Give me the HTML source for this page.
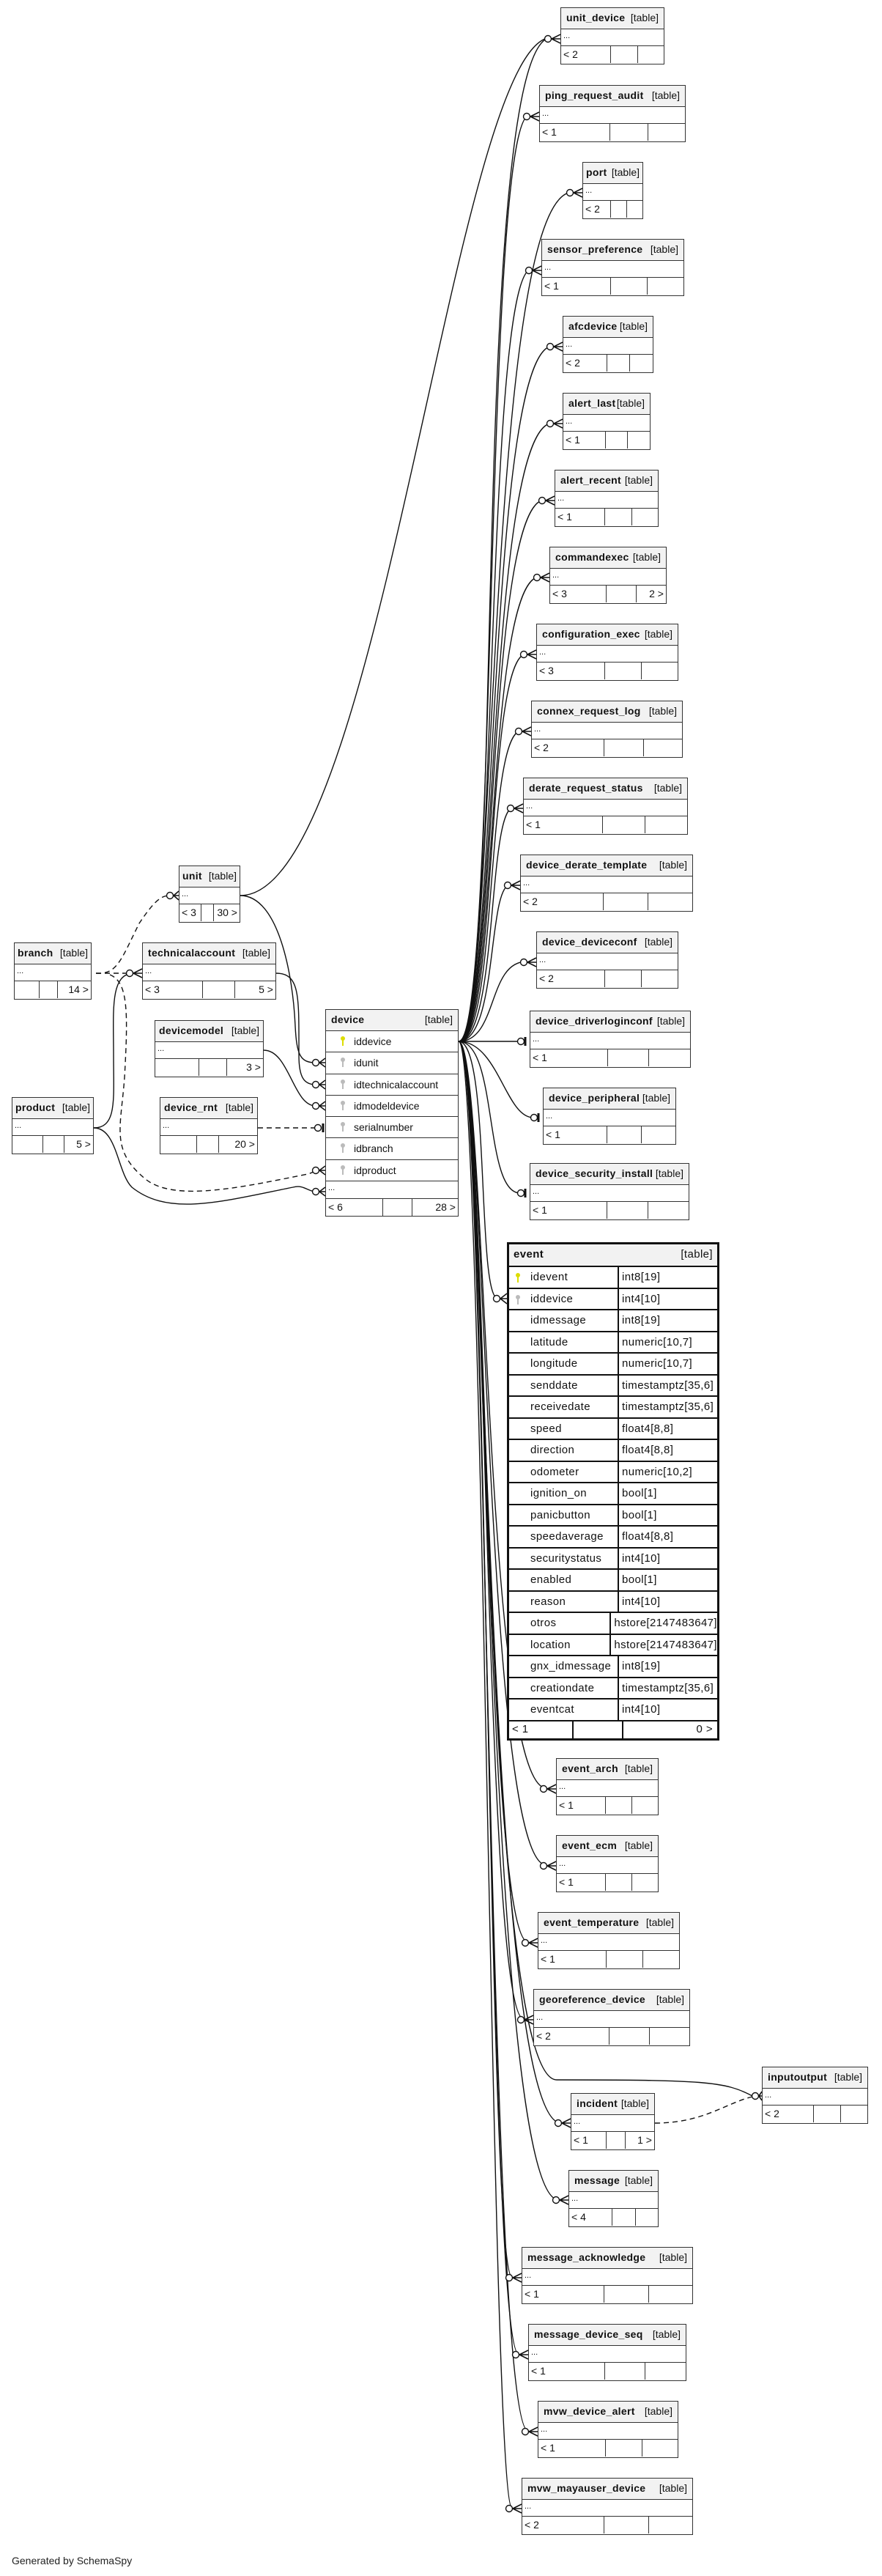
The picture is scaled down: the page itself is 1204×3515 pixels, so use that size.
<!DOCTYPE html>
<html><head><meta charset="utf-8"><style>
body{margin:0;width:1204px;height:3515px;position:relative;background:#fff;overflow:hidden;font-family:"Liberation Sans",sans-serif;color:#111}
svg{position:absolute;left:0;top:0}
.t{position:absolute;box-sizing:border-box;border:1.5px solid #333;background:#fff;height:78px;font-size:14px}
.h{box-sizing:border-box;height:29px;background:#f2f2f2;border-bottom:1.5px solid #333;padding:0 7px;line-height:26px;white-space:nowrap;display:flex;justify-content:space-between}
.h b{font-weight:bold;letter-spacing:0.3px}
.r{box-sizing:border-box;height:23px;border-bottom:1.5px solid #333;padding-left:3px;line-height:18px;font-size:11px}
.f{display:flex;height:23px;line-height:22px;font-size:14px}
.f div{box-sizing:border-box;padding:0 3px;white-space:nowrap}
.f div+div{border-left:1.5px solid #333}
.a{width:48%}.b{width:26%}.c{width:26%;text-align:right}
.dv .rw{box-sizing:border-box;height:29.3px;border-bottom:1.5px solid #333;line-height:28px;padding-left:38px;position:relative}
.k{position:absolute;left:20px;top:7px;width:6px;height:6px;border-radius:50%;background:#bbb}
.k:after{content:"";position:absolute;left:2px;top:5px;width:2px;height:8px;background:#bbb}
.ky{background:#dd0}.ky:after{background:#dd0}
.ev{position:absolute;left:692px;top:1695px;width:290px;height:680px;box-sizing:border-box;border:3px solid #111;background:#fff;font-size:15px;letter-spacing:0.4px}
.ev .eh{box-sizing:border-box;height:31px;background:#f2f2f2;border-bottom:2px solid #111;display:flex;justify-content:space-between;padding:0 6px;line-height:28px}
.ev .er{box-sizing:border-box;height:29.5px;border-bottom:2px solid #111;display:flex;line-height:27px;position:relative}
.ev .er div:first-child{width:150px;box-sizing:border-box;padding-left:29px;border-right:2px solid #111}
.ev .er div+div{padding-left:4px}
.ev .k{left:9px;top:8px}
</style></head><body>
<svg width="1204" height="3515" viewBox="0 0 1204 3515" fill="none" stroke="#111" stroke-width="1.4">
<g>
<path d="M626,1421 C690,1421 640,60 752,51"/>
<path d="M626,1421 C680,1421 660,157 723,157"/>
<path d="M626,1421 C680,1421 660,262 782,262"/>
<path d="M626,1421 C680,1421 660,367 726,367"/>
<path d="M626,1421 C680,1421 662,472 755,472"/>
<path d="M626,1421 C680,1421 662,577 755,577"/>
<path d="M626,1421 C680,1421 662,682 744,682"/>
<path d="M626,1421 C680,1421 662,787 737,787"/>
<path d="M626,1421 C680,1421 662,892 719,892"/>
<path d="M626,1421 C680,1421 662,997 712,997"/>
<path d="M626,1421 C680,1421 665,1102 701,1102"/>
<path d="M626,1421 C680,1421 665,1207 697,1207"/>
<path d="M626,1421 C680,1421 665,1312 719,1312"/>
<path d="M626,1421 L710,1421"/>
<path d="M626,1421 C680,1421 690,1525 728,1525"/>
<path d="M626,1421 C680,1421 660,1628 710,1628"/>
<path d="M626,1421 C670,1421 650,1772 680,1772"/>
<path d="M626,1421 C665,1421 660,2440 746,2440"/>
<path d="M626,1421 C665,1421 660,2545 746,2545"/>
<path d="M626,1421 C665,1421 660,2650 721,2650"/>
<path d="M626,1421 C665,1421 660,2755 715,2755"/>
<path d="M626,1421 C665,1421 655,2838 760,2838 C960,2838 990,2840 1027,2860"/>
<path d="M626,1421 C665,1421 660,2897 766,2897"/>
<path d="M626,1421 C665,1421 660,3002 763,3002"/>
<path d="M626,1421 C665,1421 665,3107 699,3107"/>
<path d="M626,1421 C665,1421 665,3212 708,3212"/>
<path d="M626,1421 C665,1421 665,3317 721,3317"/>
<path d="M626,1421 C660,1421 670,3422 699,3422"/>
</g>
<path d="M328,1222 C520,1222 620,60 752,51"/>
<path d="M328,1222 C380,1222 400,1330 403,1400 C405,1440 410,1450 431,1450"/>
<path d="M377,1328 C410,1328 408,1360 408,1440 C408,1470 415,1480 431,1480"/>
<path d="M360,1433 C395,1433 400,1509 431,1509"/>
<path d="M352,1539 L431,1539" stroke-dasharray="7,5"/>
<path d="M131,1328 C160,1330 165,1310 190,1260 C210,1230 220,1222 231,1222" stroke-dasharray="7,5"/>
<path d="M131,1328 L181,1328" stroke-dasharray="7,5"/>
<path d="M150,1330 C175,1340 175,1380 170,1470 C165,1540 150,1570 200,1610 C240,1640 330,1620 420,1602 C428,1600 430,1597 431,1597" stroke-dasharray="7,5"/>
<path d="M128,1539 C160,1539 155,1500 155,1440 C155,1380 150,1330 181,1328"/>
<path d="M128,1539 C160,1539 160,1600 180,1620 C230,1660 300,1640 400,1620 C415,1616 420,1626 431,1626"/>
<path d="M894,2897 C960,2897 990,2870 1027,2861" stroke-dasharray="7,5"/>
<g fill="#fff">
<circle cx="748" cy="53" r="4.5"/><circle cx="719" cy="159" r="4.5"/><circle cx="778" cy="263" r="4.5"/><circle cx="722" cy="369" r="4.5"/>
<circle cx="751" cy="473" r="4.5"/><circle cx="751" cy="578" r="4.5"/><circle cx="740" cy="683" r="4.5"/><circle cx="733" cy="788" r="4.5"/>
<circle cx="715" cy="893" r="4.5"/><circle cx="708" cy="998" r="4.5"/><circle cx="697" cy="1103" r="4.5"/><circle cx="693" cy="1208" r="4.5"/>
<circle cx="715" cy="1313" r="4.5"/><circle cx="711" cy="1421" r="4.5"/><circle cx="729" cy="1525" r="4.5"/><circle cx="711" cy="1628" r="4.5"/>
<circle cx="678" cy="1772" r="4.5"/>
<circle cx="742" cy="2441" r="4.5"/><circle cx="742" cy="2546" r="4.5"/><circle cx="717" cy="2651" r="4.5"/><circle cx="711" cy="2756" r="4.5"/>
<circle cx="1031" cy="2860" r="4.5"/><circle cx="762" cy="2897" r="4.5"/><circle cx="759" cy="3002" r="4.5"/>
<circle cx="695" cy="3108" r="4.5"/><circle cx="704" cy="3213" r="4.5"/><circle cx="717" cy="3318" r="4.5"/><circle cx="695" cy="3423" r="4.5"/>
<circle cx="232" cy="1222" r="4.5"/><circle cx="177" cy="1328" r="4.5"/>
<circle cx="431" cy="1450" r="4.5"/><circle cx="431" cy="1480" r="4.5"/><circle cx="431" cy="1509" r="4.5"/><circle cx="434" cy="1539" r="4.5"/>
<circle cx="431" cy="1597" r="4.5"/><circle cx="431" cy="1626" r="4.5"/>
</g>
<g stroke-width="1.6">
<path d="M753,53 L765,47 M753,53 L765,53 M753,53 L765,59"/>
<path d="M724,159 L736,153 M724,159 L736,159 M724,159 L736,165"/>
<path d="M783,263 L795,257 M783,263 L795,263 M783,263 L795,269"/>
<path d="M727,369 L739,363 M727,369 L739,369 M727,369 L739,375"/>
<path d="M756,473 L768,467 M756,473 L768,473 M756,473 L768,479"/>
<path d="M756,578 L768,572 M756,578 L768,578 M756,578 L768,584"/>
<path d="M745,683 L757,677 M745,683 L757,683 M745,683 L757,689"/>
<path d="M738,788 L750,782 M738,788 L750,788 M738,788 L750,794"/>
<path d="M720,893 L732,887 M720,893 L732,893 M720,893 L732,899"/>
<path d="M713,998 L725,992 M713,998 L725,998 M713,998 L725,1004"/>
<path d="M702,1103 L714,1097 M702,1103 L714,1103 M702,1103 L714,1109"/>
<path d="M698,1208 L710,1202 M698,1208 L710,1208 M698,1208 L710,1214"/>
<path d="M720,1313 L732,1307 M720,1313 L732,1313 M720,1313 L732,1319"/>
<path d="M683,1772 L692,1765 M683,1772 L692,1772 M683,1772 L692,1779"/>
<path d="M747,2441 L759,2435 M747,2441 L759,2441 M747,2441 L759,2447"/>
<path d="M747,2546 L759,2540 M747,2546 L759,2546 M747,2546 L759,2552"/>
<path d="M722,2651 L734,2645 M722,2651 L734,2651 M722,2651 L734,2657"/>
<path d="M716,2756 L728,2750 M716,2756 L728,2756 M716,2756 L728,2762"/>
<path d="M1036,2860 L1040,2854 M1036,2860 L1040,2860 M1036,2860 L1040,2866"/>
<path d="M767,2897 L779,2891 M767,2897 L779,2897 M767,2897 L779,2903"/>
<path d="M764,3002 L776,2996 M764,3002 L776,3002 M764,3002 L776,3008"/>
<path d="M700,3108 L712,3102 M700,3108 L712,3108 M700,3108 L712,3114"/>
<path d="M709,3213 L721,3207 M709,3213 L721,3213 M709,3213 L721,3219"/>
<path d="M722,3318 L734,3312 M722,3318 L734,3318 M722,3318 L734,3324"/>
<path d="M700,3423 L712,3417 M700,3423 L712,3423 M700,3423 L712,3429"/>
<path d="M237,1222 L244,1216 M237,1222 L244,1222 M237,1222 L244,1228"/>
<path d="M182,1328 L194,1322 M182,1328 L194,1328 M182,1328 L194,1334"/>
<path d="M436,1450 L444,1444 M436,1450 L444,1450 M436,1450 L444,1456"/>
<path d="M436,1480 L444,1474 M436,1480 L444,1480 M436,1480 L444,1486"/>
<path d="M436,1509 L444,1503 M436,1509 L444,1509 M436,1509 L444,1515"/>
<path d="M436,1597 L444,1591 M436,1597 L444,1597 M436,1597 L444,1603"/>
<path d="M436,1626 L444,1620 M436,1626 L444,1626 M436,1626 L444,1632"/>
<path d="M441,1533 L441,1545" stroke-width="3"/>
<path d="M717,1415 L717,1427" stroke-width="3"/>
<path d="M735,1519 L735,1531" stroke-width="3"/>
<path d="M717,1622 L717,1634" stroke-width="3"/>
</g>
</svg>

<div class="t" style="left:765px;top:10px;width:142px"><div class="h"><b>unit_device</b><span>[table]</span></div><div class="r">...</div><div class="f"><div class="a">&lt; 2</div><div class="b"></div><div class="c"></div></div></div>
<div class="t" style="left:736px;top:116px;width:200px"><div class="h"><b>ping_request_audit</b><span>[table]</span></div><div class="r">...</div><div class="f"><div class="a">&lt; 1</div><div class="b"></div><div class="c"></div></div></div>
<div class="t" style="left:795px;top:221px;width:83px"><div class="h" style="padding:0 4px"><b>port</b><span>[table]</span></div><div class="r">...</div><div class="f"><div style="width:46%">&lt; 2</div><div style="width:27%"></div><div style="width:27%"></div></div></div>
<div class="t" style="left:739px;top:326px;width:195px"><div class="h"><b>sensor_preference</b><span>[table]</span></div><div class="r">...</div><div class="f"><div class="a">&lt; 1</div><div class="b"></div><div class="c"></div></div></div>
<div class="t" style="left:768px;top:431px;width:124px"><div class="h"><b>afcdevice</b><span>[table]</span></div><div class="r">...</div><div class="f"><div class="a">&lt; 2</div><div class="b"></div><div class="c"></div></div></div>
<div class="t" style="left:768px;top:536px;width:120px"><div class="h"><b>alert_last</b><span>[table]</span></div><div class="r">...</div><div class="f"><div class="a">&lt; 1</div><div class="b"></div><div class="c"></div></div></div>
<div class="t" style="left:757px;top:641px;width:142px"><div class="h"><b>alert_recent</b><span>[table]</span></div><div class="r">...</div><div class="f"><div class="a">&lt; 1</div><div class="b"></div><div class="c"></div></div></div>
<div class="t" style="left:750px;top:746px;width:160px"><div class="h"><b>commandexec</b><span>[table]</span></div><div class="r">...</div><div class="f"><div class="a">&lt; 3</div><div class="b"></div><div class="c">2 &gt;</div></div></div>
<div class="t" style="left:732px;top:851px;width:194px"><div class="h"><b>configuration_exec</b><span>[table]</span></div><div class="r">...</div><div class="f"><div class="a">&lt; 3</div><div class="b"></div><div class="c"></div></div></div>
<div class="t" style="left:725px;top:956px;width:207px"><div class="h"><b>connex_request_log</b><span>[table]</span></div><div class="r">...</div><div class="f"><div class="a">&lt; 2</div><div class="b"></div><div class="c"></div></div></div>
<div class="t" style="left:714px;top:1061px;width:225px"><div class="h"><b>derate_request_status</b><span>[table]</span></div><div class="r">...</div><div class="f"><div class="a">&lt; 1</div><div class="b"></div><div class="c"></div></div></div>
<div class="t" style="left:710px;top:1166px;width:236px"><div class="h"><b>device_derate_template</b><span>[table]</span></div><div class="r">...</div><div class="f"><div class="a">&lt; 2</div><div class="b"></div><div class="c"></div></div></div>
<div class="t" style="left:732px;top:1271px;width:194px"><div class="h"><b>device_deviceconf</b><span>[table]</span></div><div class="r">...</div><div class="f"><div class="a">&lt; 2</div><div class="b"></div><div class="c"></div></div></div>
<div class="t" style="left:723px;top:1379px;width:220px"><div class="h"><b>device_driverloginconf</b><span>[table]</span></div><div class="r">...</div><div class="f"><div class="a">&lt; 1</div><div class="b"></div><div class="c"></div></div></div>
<div class="t" style="left:741px;top:1484px;width:182px"><div class="h"><b>device_peripheral</b><span>[table]</span></div><div class="r">...</div><div class="f"><div class="a">&lt; 1</div><div class="b"></div><div class="c"></div></div></div>
<div class="t" style="left:723px;top:1587px;width:218px"><div class="h"><b>device_security_install</b><span>[table]</span></div><div class="r">...</div><div class="f"><div class="a">&lt; 1</div><div class="b"></div><div class="c"></div></div></div>

<div class="ev">
<div class="eh"><b>event</b><span>[table]</span></div>
<div class="er"><div><span class="k ky"></span>idevent</div><div>int8[19]</div></div>
<div class="er"><div><span class="k"></span>iddevice</div><div>int4[10]</div></div>
<div class="er"><div>idmessage</div><div>int8[19]</div></div>
<div class="er"><div>latitude</div><div>numeric[10,7]</div></div>
<div class="er"><div>longitude</div><div>numeric[10,7]</div></div>
<div class="er"><div>senddate</div><div>timestamptz[35,6]</div></div>
<div class="er"><div>receivedate</div><div>timestamptz[35,6]</div></div>
<div class="er"><div>speed</div><div>float4[8,8]</div></div>
<div class="er"><div>direction</div><div>float4[8,8]</div></div>
<div class="er"><div>odometer</div><div>numeric[10,2]</div></div>
<div class="er"><div>ignition_on</div><div>bool[1]</div></div>
<div class="er"><div>panicbutton</div><div>bool[1]</div></div>
<div class="er"><div>speedaverage</div><div>float4[8,8]</div></div>
<div class="er"><div>securitystatus</div><div>int4[10]</div></div>
<div class="er"><div>enabled</div><div>bool[1]</div></div>
<div class="er"><div>reason</div><div>int4[10]</div></div>
<div class="er"><div>otros</div><div>hstore[2147483647]</div></div>
<div class="er"><div>location</div><div>hstore[2147483647]</div></div>
<div class="er"><div>gnx_idmessage</div><div>int8[19]</div></div>
<div class="er"><div>creationdate</div><div>timestamptz[35,6]</div></div>
<div class="er"><div>eventcat</div><div>int4[10]</div></div>
<div style="display:flex;height:24px;line-height:22px"><div style="width:82px;border-right:2px solid #111;padding-left:4px">&lt; 1</div><div style="width:66px;border-right:2px solid #111"></div><div style="flex:1;text-align:right;padding-right:6px">0 &gt;</div></div>
</div>

<div class="t" style="left:759px;top:2399px;width:140px"><div class="h"><b>event_arch</b><span>[table]</span></div><div class="r">...</div><div class="f"><div class="a">&lt; 1</div><div class="b"></div><div class="c"></div></div></div>
<div class="t" style="left:759px;top:2504px;width:140px"><div class="h"><b>event_ecm</b><span>[table]</span></div><div class="r">...</div><div class="f"><div class="a">&lt; 1</div><div class="b"></div><div class="c"></div></div></div>
<div class="t" style="left:734px;top:2609px;width:194px"><div class="h"><b>event_temperature</b><span>[table]</span></div><div class="r">...</div><div class="f"><div class="a">&lt; 1</div><div class="b"></div><div class="c"></div></div></div>
<div class="t" style="left:728px;top:2714px;width:214px"><div class="h"><b>georeference_device</b><span>[table]</span></div><div class="r">...</div><div class="f"><div class="a">&lt; 2</div><div class="b"></div><div class="c"></div></div></div>
<div class="t" style="left:1040px;top:2820px;width:145px"><div class="h"><b>inputoutput</b><span>[table]</span></div><div class="r">...</div><div class="f"><div class="a">&lt; 2</div><div class="b"></div><div class="c"></div></div></div>
<div class="t" style="left:779px;top:2856px;width:115px"><div class="h"><b>incident</b><span>[table]</span></div><div class="r">...</div><div class="f"><div style="width:42%">&lt; 1</div><div style="width:23%"></div><div style="width:35%;text-align:right">1 &gt;</div></div></div>
<div class="t" style="left:776px;top:2961px;width:123px"><div class="h"><b>message</b><span>[table]</span></div><div class="r">...</div><div class="f"><div class="a">&lt; 4</div><div class="b"></div><div class="c"></div></div></div>
<div class="t" style="left:712px;top:3066px;width:234px"><div class="h"><b>message_acknowledge</b><span>[table]</span></div><div class="r">...</div><div class="f"><div class="a">&lt; 1</div><div class="b"></div><div class="c"></div></div></div>
<div class="t" style="left:721px;top:3171px;width:216px"><div class="h"><b>message_device_seq</b><span>[table]</span></div><div class="r">...</div><div class="f"><div class="a">&lt; 1</div><div class="b"></div><div class="c"></div></div></div>
<div class="t" style="left:734px;top:3276px;width:192px"><div class="h"><b>mvw_device_alert</b><span>[table]</span></div><div class="r">...</div><div class="f"><div class="a">&lt; 1</div><div class="b"></div><div class="c"></div></div></div>
<div class="t" style="left:712px;top:3381px;width:234px"><div class="h"><b>mvw_mayauser_device</b><span>[table]</span></div><div class="r">...</div><div class="f"><div class="a">&lt; 2</div><div class="b"></div><div class="c"></div></div></div>

<div class="t" style="left:244px;top:1181px;width:84px"><div class="h" style="padding:0 4px"><b>unit</b><span>[table]</span></div><div class="r">...</div><div class="f"><div style="width:35%">&lt; 3</div><div style="width:21%"></div><div style="width:44%;text-align:right">30 &gt;</div></div></div>
<div class="t" style="left:19px;top:1286px;width:106px"><div class="h" style="padding:0 4px"><b>branch</b><span>[table]</span></div><div class="r">...</div><div class="f"><div style="width:32%"></div><div style="width:24%"></div><div style="width:44%;text-align:right">14 &gt;</div></div></div>
<div class="t" style="left:194px;top:1286px;width:183px"><div class="h"><b>technicalaccount</b><span>[table]</span></div><div class="r">...</div><div class="f"><div style="width:45%">&lt; 3</div><div style="width:24%"></div><div style="width:31%;text-align:right">5 &gt;</div></div></div>
<div class="t" style="left:211px;top:1392px;width:149px"><div class="h" style="padding:0 5px"><b>devicemodel</b><span>[table]</span></div><div class="r">...</div><div class="f"><div style="width:40%"></div><div style="width:26%"></div><div style="width:34%;text-align:right">3 &gt;</div></div></div>
<div class="t" style="left:16px;top:1497px;width:112px"><div class="h" style="padding:0 4px"><b>product</b><span>[table]</span></div><div class="r">...</div><div class="f"><div style="width:37%"></div><div style="width:27%"></div><div style="width:36%;text-align:right">5 &gt;</div></div></div>
<div class="t" style="left:218px;top:1497px;width:134px"><div class="h" style="padding:0 5px"><b>device_rnt</b><span>[table]</span></div><div class="r">...</div><div class="f"><div style="width:37%"></div><div style="width:23%"></div><div style="width:40%;text-align:right">20 &gt;</div></div></div>

<div class="t dv" style="left:444px;top:1377px;width:182px;height:283px">
<div class="h" style="height:29px"><b>device</b><span>[table]</span></div>
<div class="rw"><span class="k ky"></span>iddevice</div>
<div class="rw"><span class="k"></span>idunit</div>
<div class="rw"><span class="k"></span>idtechnicalaccount</div>
<div class="rw"><span class="k"></span>idmodeldevice</div>
<div class="rw"><span class="k"></span>serialnumber</div>
<div class="rw"><span class="k"></span>idbranch</div>
<div class="rw"><span class="k"></span>idproduct</div>
<div class="r" style="height:24px">...</div>
<div class="f"><div style="width:43%">&lt; 6</div><div style="width:22%"></div><div style="width:35%;text-align:right">28 &gt;</div></div>
</div>

<div style="position:absolute;left:16px;top:3486px;font-size:14px;color:#222">Generated by SchemaSpy</div>
</body></html>
